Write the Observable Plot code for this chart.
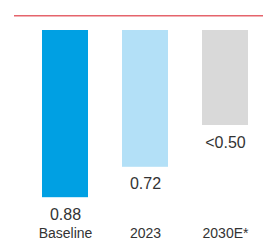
<!DOCTYPE html>
<html>
<head>
<meta charset="utf-8">
<script src="https://cdn.jsdelivr.net/npm/d3@7"></script>
<script src="https://cdn.jsdelivr.net/npm/@observablehq/plot@0.6"></script>
<style>
  html, body { margin: 0; padding: 0; background: #fff; }
  #chart svg { display: block; }
</style>
</head>
<body>
<div id="chart"></div>
<script>
const categories = ["Baseline", "2023", "2030E*"];
const values = [0.88, 0.72, 0.50];
const valueLabels = ["0.88", "0.72", "<0.50"];
const colors = ["#00a0e3", "#b3e0f7", "#d9d9d9"];
const referenceLevel = [-0.077];

const data = categories.map((c, i) => ({cat: c, value: values[i], label: valueLabels[i], color: colors[i]}));

const chart = Plot.plot({
  width: 263,
  height: 243,
  marginTop: 30,
  marginBottom: 23,
  marginLeft: 14,
  marginRight: 0,
  style: {fontFamily: "'Liberation Sans', Arial, sans-serif", fontSize: "14px", color: "#333"},
  x: {domain: categories, range: [27, 263], paddingInner: 0.425, paddingOuter: 0.1875, label: null, tickSize: 0, tickPadding: 8},
  y: {domain: [0, 1], reverse: true, axis: null},
  marks: [
    Plot.barY(data, {x: "cat", y1: 0, y2: "value", fill: "color", insetLeft: 0, insetRight: 0}),
    Plot.text(data, {x: "cat", y: "value", text: "label", dy: 17, fill: "#333", fontSize: 16}),
    Plot.ruleY(referenceLevel, {stroke: "#e5646c", strokeWidth: 1.5, clip: false})
  ]
});
document.getElementById("chart").appendChild(chart);
</script>
</body>
</html>
